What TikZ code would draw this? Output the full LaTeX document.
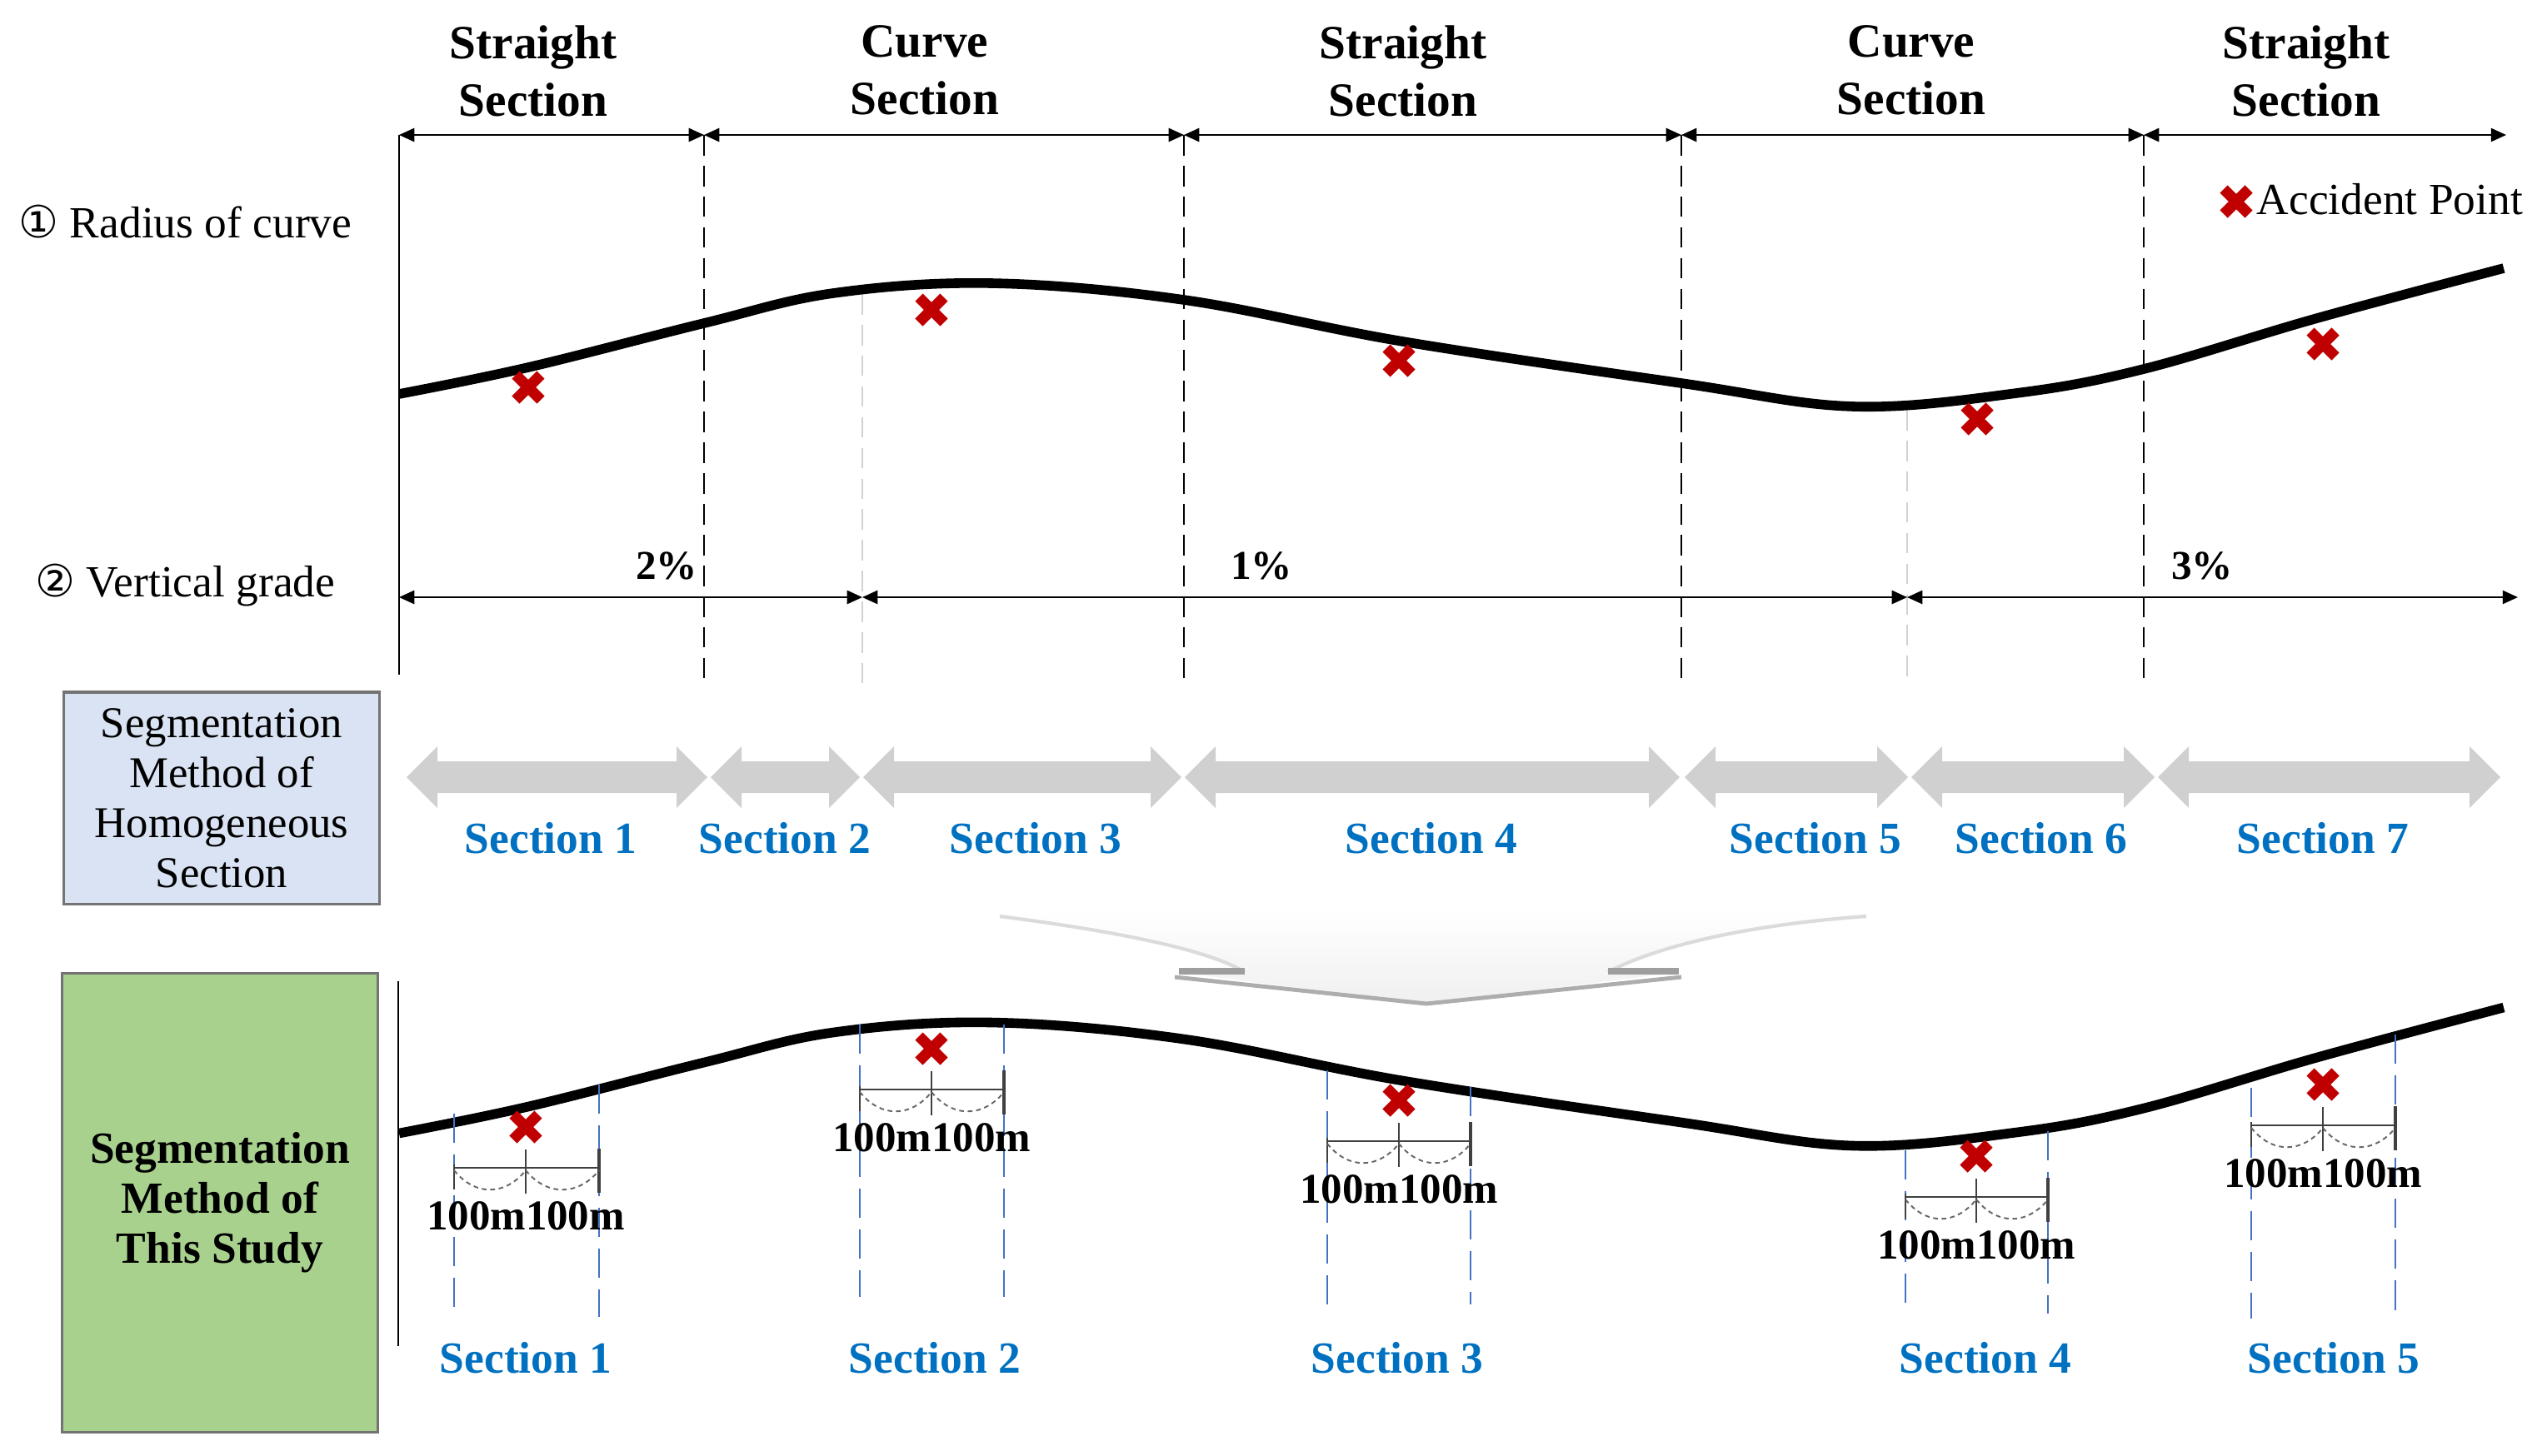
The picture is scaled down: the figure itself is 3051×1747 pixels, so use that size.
\documentclass[tikz,border=0pt]{standalone}
\usepackage{fontspec}
\setmainfont{Liberation Serif}
\newfontfamily\symfont{DejaVu Sans}
\usetikzlibrary{arrows.meta}
\definecolor{accred}{HTML}{C00000}
\definecolor{secblue}{HTML}{0070C0}
\definecolor{dashblue}{HTML}{4472C4}
\definecolor{boxblue}{HTML}{DAE3F3}
\definecolor{boxgreen}{HTML}{A9D18E}
\definecolor{arrgray}{HTML}{D0D0D0}
\tikzset{
  dimline/.style={line width=0.6pt, {Triangle[length=5.2pt,width=4.6pt]}-{Triangle[length=5.2pt,width=4.6pt]}},
  divline/.style={line width=0.7pt, dash pattern=on 7pt off 3.5pt},
  faintdiv/.style={line width=0.6pt, black!18, dash pattern=on 7pt off 3.5pt},
  road/.style={line width=3.3pt},
  bluedash/.style={line width=0.65pt, dashblue, dash pattern=on 10pt off 4pt},
  barline/.style={line width=0.6pt, black!75},
  arcdot/.style={line width=0.55pt, black!60, dash pattern=on 1.6pt off 1.3pt},
  head/.style={font=\fontsize{16.3}{19.6}\selectfont\bfseries, align=center, inner sep=0pt, anchor=north},
  seclab/.style={font=\fontsize{15.2}{18}\selectfont\bfseries, text=secblue, inner sep=0pt, anchor=base},
  pctlab/.style={font=\fontsize{14}{16}\selectfont\bfseries, inner sep=0pt, anchor=base},
  mlab/.style={font=\fontsize{14.5}{16}\selectfont\bfseries, inner sep=0pt, anchor=base},
  rowlab/.style={font=\fontsize{15.2}{18}\selectfont, inner sep=0pt, anchor=base west},
  methodbox/.style={draw=black!55, line width=0.9pt, inner sep=0pt, minimum width=3.78cm, align=center},
  accx/.pic={\draw[accred, line width=3.7pt] (-15,-15) -- (15,15) (-15,15) -- (15,-15);}
}
\newcommand\mkgrayarrow[2]{%
  \fill[arrgray] (#1,933) -- ({#1+37},896) -- ({#1+37},914) -- ({#2-37},914) -- ({#2-37},896)
    -- (#2,933) -- ({#2-37},970) -- ({#2-37},952) -- ({#1+37},952) -- ({#1+37},970) -- cycle;}
\newcommand\mkscalebar[5]{% xl xc xr bar name
  \draw[barline] (#1,#4) -- (#3,#4);
  \draw[barline] (#2,{#4-22}) -- (#2,{#4+31});
  \draw[barline, line width=0.9pt] (#3,{#4-23}) -- (#3,{#4+30});
  \draw[barline] (#1,{#4-4}) -- (#1,{#4+26});
  \draw[arcdot] (#1,{#4+3}) .. controls ({#1+25},{#4+34}) and ({#2-25},{#4+34}) .. (#2,{#4+3});
  \draw[arcdot] (#2,{#4+3}) .. controls ({#2+25},{#4+34}) and ({#3-25},{#4+34}) .. (#3,{#4+3});
  \pic at (#2,{#4-49}) {accx};
  \node[mlab] (#5) at (#2,{#4+74}) {100m100m};}
\newcommand\roadpts{(479,473) (634,441) (845,388) (1000,352) (1190,340) (1421,360) (1684,410) (2018,460) (2225,488) (2420,472) (2573,443) (2781,382) (3005,322)}
\begin{document}
\begin{tikzpicture}[x=0.01cm,y=-0.01cm]
\fill[white] (0,0) rectangle (3051,1747);
\useasboundingbox (0,0) rectangle (3051,1747);

% ---------- top: section headings ----------
\node[head] (h1) at (640,30) {Straight\\Section};
\node[head] (h2) at (1110,30) {Curve\\Section};
\node[head] (h3) at (1684,30) {Straight\\Section};
\node[head] (h4) at (2294,30) {Curve\\Section};
\node[head] (h5) at (2768,30) {Straight\\Section};

\coordinate (a0) at (479,162);
\coordinate (a1) at (845,162);
\coordinate (a2) at (1421,162);
\coordinate (a3) at (2018,162);
\coordinate (a4) at (2573,162);
\coordinate (a5) at (3008,162);
\coordinate (b1) at (845,821);
\coordinate (b2) at (1421,821);
\coordinate (b3) at (2018,821);
\coordinate (b4) at (2573,821);
\coordinate (b0) at (479,810);

\draw[line width=0.65pt] (a0) -- (b0);
\foreach \i in {1,2,3,4} \draw[divline] (a\i) -- (b\i);
\draw[dimline] (a0) -- (a1);
\draw[dimline] (a1) -- (a2);
\draw[dimline] (a2) -- (a3);
\draw[dimline] (a3) -- (a4);
\draw[dimline] (a4) -- (a5);

% faint grade boundaries
\coordinate (f1t) at (1035,353);
\coordinate (f1b) at (1035,820);
\coordinate (f2t) at (2289,492);
\coordinate (f2b) at (2289,820);
\draw[faintdiv] (f1t) -- (f1b);
\draw[faintdiv] (f2t) -- (f2b);

% row labels
\node[rowlab] (r1) at (22,285) {{\symfont ①} Radius of curve};
\node[rowlab] (r2) at (42,716) {{\symfont ②} Vertical grade};

% road (top)
\draw[road] plot[smooth, tension=0.6] coordinates {\roadpts};

% accident points (top)
\pic at (634,465) {accx};
\pic at (1118,372) {accx};
\pic at (1679,433) {accx};
\pic at (2373,503) {accx};
\pic at (2788,413) {accx};

% legend
\pic at (2684,242) {accx};
\node[rowlab] (leg) at (2708,257) {Accident Point};

% vertical grade
\coordinate (g0) at (479,717);
\coordinate (g1) at (1035,717);
\coordinate (g2) at (2289,717);
\coordinate (g3) at (3022,717);
\draw[dimline] (g0) -- (g1);
\draw[dimline] (g1) -- (g2);
\draw[dimline] (g2) -- (g3);
\node[pctlab] (p1) at (800,695) {2\%};
\node[pctlab] (p2) at (1514,695) {1\%};
\node[pctlab] (p3) at (2643,695) {3\%};

% ---------- middle: homogeneous sections ----------
\node[methodbox, fill=boxblue, minimum height=2.54cm, font=\fontsize{15}{17.07}\selectfont] (hbox) at (266,958)
  {Segmentation\\Method of\\Homogeneous\\Section};
\mkgrayarrow{488}{849}
\mkgrayarrow{853}{1032}
\mkgrayarrow{1036}{1418}
\mkgrayarrow{1422}{2016}
\mkgrayarrow{2022}{2290}
\mkgrayarrow{2294}{2586}
\mkgrayarrow{2590}{3001}
\node[seclab] (s1) at (661,1024) {Section 1};
\node[seclab] (s2) at (942,1024) {Section 2};
\node[seclab] (s3) at (1243,1024) {Section 3};
\node[seclab] (s4) at (1718,1024) {Section 4};
\node[seclab] (s5) at (2179,1024) {Section 5};
\node[seclab] (s6) at (2450,1024) {Section 6};
\node[seclab] (s7) at (2788,1024) {Section 7};

% faint down arrow
\shade[top color=white, bottom color=black!6]
  (1177,1093) .. controls (1330,1110) and (1440,1135) .. (1494,1167) -- (1410,1167)
  -- (1712,1205) -- (2018,1167) -- (1930,1167)
  .. controls (1990,1133) and (2120,1104) .. (2256,1097) -- cycle;
\draw[black!14, line width=1.2pt] (1200,1100) .. controls (1340,1118) and (1450,1140) .. (1494,1167);
\draw[black!14, line width=1.2pt] (1930,1167) .. controls (1990,1135) and (2100,1110) .. (2240,1100);
\draw[black!32, line width=1.4pt] (1410,1173) -- (1712,1205) -- (2018,1173);
\draw[black!38, line width=2.2pt] (1415,1166) -- (1494,1166);
\draw[black!38, line width=2.2pt] (1930,1166) -- (2015,1166);

% ---------- bottom: this study ----------
\node[methodbox, fill=boxgreen, minimum height=5.5cm, font=\fontsize{15.2}{17.07}\selectfont\bfseries] (gbox) at (264,1444)
  {Segmentation\\Method of\\This Study};
\coordinate (v0t) at (478,1178);
\coordinate (v0b) at (478,1616);
\draw[line width=0.7pt] (v0t) -- (v0b);
\begin{scope}[yshift=-8.87cm]
\draw[road] plot[smooth, tension=0.6] coordinates {\roadpts};
\end{scope}

% blue dashed section limits
\draw[bluedash] (545,1337) -- (545,1581);
\draw[bluedash] (719,1302) -- (719,1581);
\draw[bluedash] (1032,1230) -- (1032,1557);
\draw[bluedash] (1205,1230) -- (1205,1557);
\draw[bluedash] (1593,1285) -- (1593,1566);
\draw[bluedash] (1765,1305) -- (1765,1566);
\draw[bluedash] (2287,1381) -- (2287,1577);
\draw[bluedash] (2458,1358) -- (2458,1577);
\draw[bluedash] (2702,1306) -- (2702,1583);
\draw[bluedash] (2875,1242) -- (2875,1583);

\mkscalebar{545}{631}{719}{1402}{m1}
\mkscalebar{1032}{1118}{1205}{1308}{m2}
\mkscalebar{1593}{1679}{1765}{1370}{m3}
\mkscalebar{2287}{2372}{2458}{1437}{m4}
\mkscalebar{2702}{2788}{2875}{1351}{m5}

\node[seclab] (t1) at (631,1648) {Section 1};
\node[seclab] (t2) at (1122,1648) {Section 2};
\node[seclab] (t3) at (1677,1648) {Section 3};
\node[seclab] (t4) at (2383,1648) {Section 4};
\node[seclab] (t5) at (2801,1648) {Section 5};
\end{tikzpicture}
\end{document}
